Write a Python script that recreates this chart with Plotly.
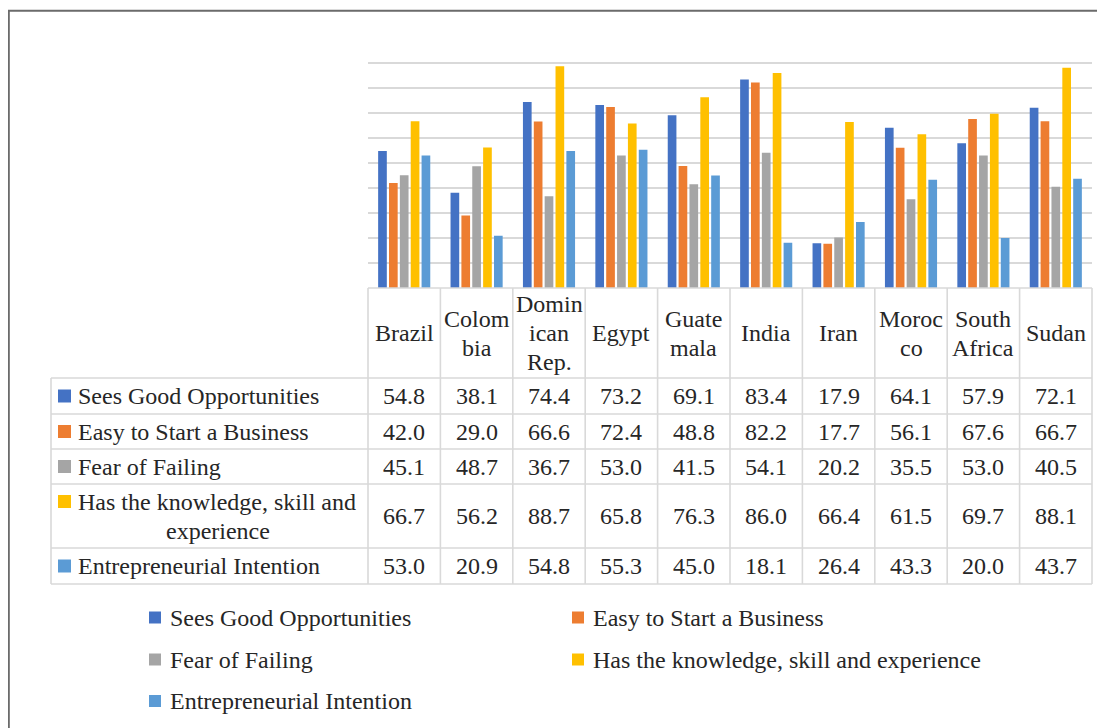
import plotly.graph_objects as go

W, H = 1105, 728
OFF = 8  # page body margin; positions below are in screenshot pixels

countries = ["Brazil", "Colombia", "Dominican Rep.", "Egypt", "Guatemala",
             "India", "Iran", "Morocco", "South Africa", "Sudan"]
# header labels as wrapped in the data table
header_labels = ["Brazil", "Colom\nbia", "Domin\nican\nRep.", "Egypt", "Guate\nmala",
                 "India", "Iran", "Moroc\nco", "South\nAfrica", "Sudan"]

series_names = ["Sees Good Opportunities", "Easy to Start a Business", "Fear of Failing",
                "Has the knowledge, skill and experience", "Entrepreneurial Intention"]
row_labels = ["Sees Good Opportunities", "Easy to Start a Business", "Fear of Failing",
              "Has the knowledge, skill and\nexperience", "Entrepreneurial Intention"]

sees_good = [54.8, 38.1, 74.4, 73.2, 69.1, 83.4, 17.9, 64.1, 57.9, 72.1]
easy_start = [42.0, 29.0, 66.6, 72.4, 48.8, 82.2, 17.7, 56.1, 67.6, 66.7]
fear_fail = [45.1, 48.7, 36.7, 53.0, 41.5, 54.1, 20.2, 35.5, 53.0, 40.5]
knowledge = [66.7, 56.2, 88.7, 65.8, 76.3, 86.0, 66.4, 61.5, 69.7, 88.1]
intention = [53.0, 20.9, 54.8, 55.3, 45.0, 18.1, 26.4, 43.3, 20.0, 43.7]

colors = ["#4472C4", "#ED7D31", "#A5A5A5", "#FFC000", "#5B9BD5"]
series_vals = [sees_good, easy_start, fear_fail, knowledge, intention]

FONT = "Liberation Serif, Times New Roman, serif"
TXT = "#262626"
LINE = "#d9d9d9"
FS = 24


def px(x):
    return (x - OFF) / W


def py(y):
    return 1 - (y - OFF) / H


# plot / table geometry in pixels
x0, x1 = 368, 1092
y_top, y_axis = 38, 288
col_w = (x1 - x0) / len(countries)
row_edges = [378, 414, 449, 484, 548, 584]
tbl_left = 51

fig = go.Figure()
for name, vals, c in zip(series_names, series_vals, colors):
    fig.add_trace(go.Bar(x=countries, y=vals, name=name, marker=dict(color=c, line=dict(width=0))))

shapes = []
annos = []

# outer frame (only top and left edges visible)
shapes.append(dict(type="rect", xref="paper", yref="paper", x0=px(8.8), x1=px(1130),
                   y0=py(760), y1=py(10.8), line=dict(color="#6b6b6b", width=2)))

# table lines
ln = dict(color=LINE, width=1.6)
shapes.append(dict(type="line", xref="paper", yref="paper", x0=px(x0), x1=px(x1),
                   y0=py(y_axis), y1=py(y_axis), line=ln))
for r in row_edges:
    shapes.append(dict(type="line", xref="paper", yref="paper", x0=px(tbl_left), x1=px(x1),
                       y0=py(r), y1=py(r), line=ln))
shapes.append(dict(type="line", xref="paper", yref="paper", x0=px(tbl_left), x1=px(tbl_left),
                   y0=py(row_edges[0]), y1=py(row_edges[-1]), line=ln))
for k in range(len(countries) + 1):
    xx = x0 + k * col_w
    shapes.append(dict(type="line", xref="paper", yref="paper", x0=px(xx), x1=px(xx),
                       y0=py(y_axis), y1=py(row_edges[-1]), line=ln))


def text(x, y, s, anchor="center"):
    annos.append(dict(x=px(x), y=py(y), xref="paper", yref="paper", text=s, showarrow=False,
                      xanchor=anchor, yanchor="middle",
                      font=dict(family=FONT, size=FS, color=TXT)))


LSP = 29
# header labels
for i, lab in enumerate(header_labels):
    parts = lab.split("\n")
    cx = x0 + (i + 0.5) * col_w
    cy = (y_axis + row_edges[0]) / 2
    start = cy - (len(parts) - 1) * LSP / 2
    for j, p in enumerate(parts):
        text(cx, start + j * LSP, p)

# row labels with keys, and values
for r, (lab, vals, c) in enumerate(zip(row_labels, series_vals, colors)):
    cy = (row_edges[r] + row_edges[r + 1]) / 2
    parts = lab.split("\n")
    key_y = cy if len(parts) == 1 else cy - LSP / 2
    shapes.append(dict(type="rect", xref="paper", yref="paper", x0=px(58), x1=px(71),
                       y0=py(key_y + 6.5), y1=py(key_y - 6.5), fillcolor=c, line=dict(width=0)))
    if len(parts) == 1:
        text(76, cy, parts[0], "left")
    else:
        text(76, cy - LSP / 2, parts[0], "left")
        text(218, cy + LSP / 2, parts[1], "center")
    for i, v in enumerate(vals):
        text(x0 + (i + 0.5) * col_w, cy, f"{v:.1f}")

# legend below the table
leg_pos = [(149, 617.5), (572, 617.5), (149, 659.5), (572, 659.5), (149, 701)]
for (lx, ly), name, c in zip(leg_pos, series_names, colors):
    shapes.append(dict(type="rect", xref="paper", yref="paper", x0=px(lx), x1=px(lx + 12),
                       y0=py(ly + 6), y1=py(ly - 6), fillcolor=c, line=dict(width=0)))
    text(lx + 19, ly, name, "left")

fig.update_layout(
    width=W, height=H,
    margin=dict(l=0, r=0, t=0, b=0),
    paper_bgcolor="white", plot_bgcolor="white",
    showlegend=False,
    barmode="group", bargap=0.25, bargroupgap=0.2,
    xaxis=dict(domain=[px(x0), px(x1)], showticklabels=False, showgrid=False,
               zeroline=False, showline=False, ticks=""),
    yaxis=dict(domain=[py(y_axis), py(y_top)], range=[0, 100], dtick=10,
               showticklabels=False, showgrid=True, gridcolor=LINE, gridwidth=1.6,
               zeroline=False, showline=False, ticks=""),
    shapes=shapes,
    annotations=annos,
)

fig.write_html("out.html")
